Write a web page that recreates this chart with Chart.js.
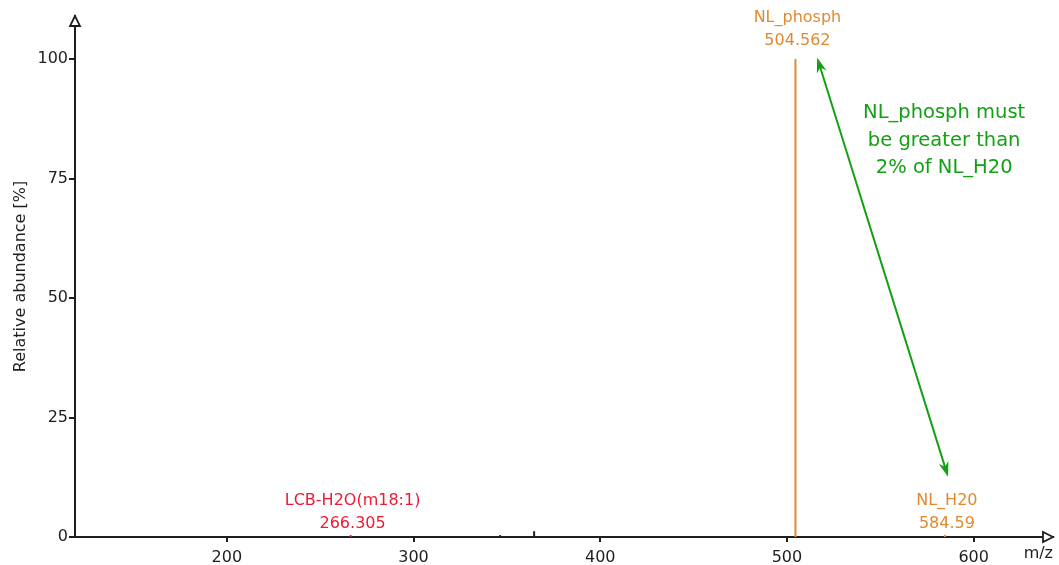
<!DOCTYPE html>
<html>
<head>
<meta charset="utf-8">
<script src="https://cdn.jsdelivr.net/npm/chart.js@4/dist/chart.umd.min.js"></script>
<style>
  html, body { margin: 0; padding: 0; background: #fff; }
  #wrap { width: 1059px; height: 565px; position: relative; }
</style>
</head>
<body>
<div id="wrap"><canvas id="chart"></canvas></div>
<script>
// ─── Data ─────────────────────────────────────────────────────────────────────

const peakMz        = [266.305, 346.4, 364.6, 504.562, 584.59];
const peakAbundance = [0.4, 0.4, 1.2, 100, 0.4];
const peakLabels    = ["LCB-H2O(m18:1)", "", "", "NL_phosph", "NL_H20"];
const peakKinds     = ["fragment", "noise", "noise", "neutralLoss", "neutralLoss"];

const xTicks = [200, 300, 400, 500, 600];
const yTicks = [0, 25, 50, 75, 100];

const noteLines = ["NL_phosph must", "be greater than", "2% of NL_H20"];

// ─── Styles ───────────────────────────────────────────────────────────────────

const FONT = "'DejaVu Sans', Verdana, sans-serif";
const AXIS = "#1e1e1e";
const KIND_COLORS = {
  fragment: "#ec1a34",
  neutralLoss: "#e0892f",
  noise: "#1e1e1e",
};
const NOTE_COLOR = "#14a014";

// arrow from the note (data coords): NL_phosph top  <->  NL_H20 label
const NOTE_ARROW = { from: { x: 516.2, y: 100.3 }, to: { x: 586.3, y: 12.6 } };
const NOTE_TEXT_POS = { x: 584.2, y: 88.7 };

// ─── Datasets ─────────────────────────────────────────────────────────────────

const datasets = peakMz.map((mz, i) => ({
  label: peakLabels[i] || "peak",
  data: [{ x: mz, y: 0 }, { x: mz, y: peakAbundance[i] }],
  borderColor: KIND_COLORS[peakKinds[i]],
  borderWidth: 2,
  pointRadius: 0,
  showLine: true,
  clip: false,
}));

// ─── Plugins ──────────────────────────────────────────────────────────────────

function hollowArrow(ctx, pts) {
  ctx.beginPath();
  ctx.moveTo(pts[0][0], pts[0][1]);
  ctx.lineTo(pts[1][0], pts[1][1]);
  ctx.lineTo(pts[2][0], pts[2][1]);
  ctx.closePath();
  ctx.fillStyle = "#fff";
  ctx.fill();
  ctx.lineWidth = 1.8;
  ctx.strokeStyle = AXIS;
  ctx.stroke();
}

function arrowHead(ctx, x, y, ang) {
  const len = 15, half = 5;
  ctx.beginPath();
  ctx.moveTo(x, y);
  ctx.lineTo(x - len * Math.cos(ang) + half * Math.sin(ang), y - len * Math.sin(ang) - half * Math.cos(ang));
  ctx.lineTo(x - len * Math.cos(ang) * 0.7, y - len * Math.sin(ang) * 0.7);
  ctx.lineTo(x - len * Math.cos(ang) - half * Math.sin(ang), y - len * Math.sin(ang) + half * Math.cos(ang));
  ctx.closePath();
  ctx.fill();
}

const decorPlugin = {
  id: "decor",
  afterDraw(chart) {
    const { ctx, chartArea: a, scales: { x, y } } = chart;
    ctx.save();

    // axis arrow heads
    hollowArrow(ctx, [[a.left, a.top], [a.left - 5, a.top + 10], [a.left + 5, a.top + 10]]);
    hollowArrow(ctx, [[a.right, a.bottom], [a.right - 10, a.bottom - 5], [a.right - 10, a.bottom + 5]]);

    // peak labels (gap above the stick grows a bit with peak height)
    ctx.font = "16px " + FONT;
    ctx.textAlign = "center";
    ctx.textBaseline = "middle";
    peakMz.forEach((mz, i) => {
      if (!peakLabels[i]) return;
      const px = x.getPixelForValue(mz) + 2;
      const py = y.getPixelForValue(peakAbundance[i]) - (11 + 7 * peakAbundance[i] / 100);
      ctx.fillStyle = KIND_COLORS[peakKinds[i]];
      ctx.fillText(String(mz), px, py);
      ctx.fillText(peakLabels[i], px, py - 23.5);
    });

    // note text
    ctx.font = "19.5px " + FONT;
    ctx.fillStyle = NOTE_COLOR;
    const nx = x.getPixelForValue(NOTE_TEXT_POS.x);
    const ny = y.getPixelForValue(NOTE_TEXT_POS.y);
    noteLines.forEach((line, i) => ctx.fillText(line, nx, ny + i * 27.5));

    // double-headed note arrow
    const x1 = x.getPixelForValue(NOTE_ARROW.from.x), y1 = y.getPixelForValue(NOTE_ARROW.from.y);
    const x2 = x.getPixelForValue(NOTE_ARROW.to.x),   y2 = y.getPixelForValue(NOTE_ARROW.to.y);
    const ang = Math.atan2(y2 - y1, x2 - x1);
    ctx.strokeStyle = NOTE_COLOR;
    ctx.lineWidth = 2;
    ctx.beginPath();
    ctx.moveTo(x1 + 8 * Math.cos(ang), y1 + 8 * Math.sin(ang));
    ctx.lineTo(x2 - 8 * Math.cos(ang), y2 - 8 * Math.sin(ang));
    ctx.stroke();
    arrowHead(ctx, x2, y2, ang);
    arrowHead(ctx, x1, y1, ang + Math.PI);

    ctx.restore();
  },
};

// ─── Chart ────────────────────────────────────────────────────────────────────

new Chart(document.getElementById("chart"), {
  type: "scatter",
  data: { datasets },
  plugins: [decorPlugin],
  options: {
    responsive: true,
    maintainAspectRatio: false,
    animation: false,
    events: [],
    layout: { padding: { top: 16, right: 6, left: 0, bottom: 0 } },
    plugins: { legend: { display: false }, tooltip: { enabled: false } },
    scales: {
      x: {
        type: "linear",
        min: 118.7,
        max: 642.5,
        afterFit: (s) => { s.height = 28; },
        afterBuildTicks: (s) => { s.ticks = xTicks.map((v) => ({ value: v })); },
        ticks: {
          color: AXIS,
          font: { family: FONT, size: 16 },
          maxRotation: 0,
          autoSkip: false,
          padding: 6,
        },
        grid: { drawOnChartArea: false, drawTicks: true, tickLength: 5, color: AXIS, lineWidth: 2 },
        border: { color: AXIS, width: 2 },
        title: {
          display: true,
          text: "m/z",
          align: "end",
          color: AXIS,
          font: { family: FONT, size: 16 },
          padding: { top: 0, bottom: 2 },
        },
      },
      y: {
        type: "linear",
        min: 0,
        max: 109,
        afterFit: (s) => { s.width = 75; },
        afterBuildTicks: (s) => { s.ticks = yTicks.map((v) => ({ value: v })); },
        ticks: {
          color: AXIS,
          font: { family: FONT, size: 16 },
          padding: 1,
        },
        grid: { drawOnChartArea: false, drawTicks: true, tickLength: 6, color: AXIS, lineWidth: 2 },
        border: { color: AXIS, width: 2 },
        title: {
          display: true,
          text: "Relative abundance [%]",
          color: AXIS,
          font: { family: FONT, size: 16 },
          padding: { top: 11, bottom: 0 },
        },
      },
    },
  },
});
</script>
</body>
</html>
